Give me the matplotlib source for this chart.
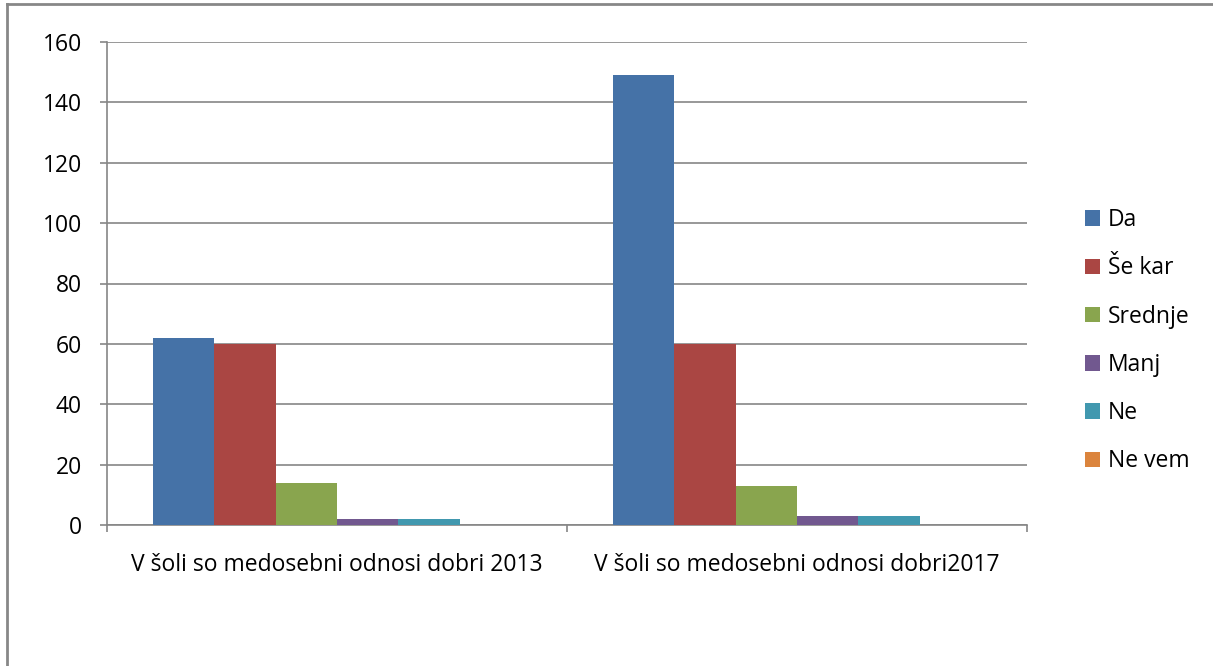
import numpy as np
import matplotlib
matplotlib.use("Agg")
import matplotlib.pyplot as plt
from matplotlib.lines import Line2D


# data
categories = ["V šoli so medosebni odnosi dobri 2013", "V šoli so medosebni odnosi dobri2017"]
series_names = ["Da", "Še kar", "Srednje", "Manj", "Ne", "Ne vem"]
da = [62, 149]
se_kar = [60, 60]
srednje = [14, 13]
manj = [2, 3]
ne = [2, 3]
ne_vem = [0, 0]
y_ticks = [0, 20, 40, 60, 80, 100, 120, 140, 160]

colors = ["#4572A7", "#AA4643", "#89A54E", "#71588F", "#4198AF", "#DB843D"]
grid_col = "#868686"

plt.rcParams['font.family'] = ['Open Sans', 'DejaVu Sans']
plt.rcParams['font.size'] = 16.5

fig = plt.figure(figsize=(12.13, 6.66), dpi=100)
ax = fig.add_axes([107/1213, 141/666, 920/1213, 483/666])

values = [da, se_kar, srednje, manj, ne, ne_vem]
x = np.arange(len(categories))
w = 1 / 7.5  # excel gap width 150%
for i, (name, vals) in enumerate(zip(series_names, values)):
	ax.bar(x + (i - 2.5) * w, vals, width=w, color=colors[i], label=name,
	       edgecolor='none', zorder=3)

ax.set_xlim(-0.5, 1.5)
ax.set_ylim(0, 160)
ax.set_yticks(y_ticks)
ax.yaxis.grid(True, color=grid_col, linewidth=1.2, zorder=0)

ax.set_xticks(x)
ax.set_xticklabels(categories)
ax.set_xticks([-0.5, 0.5, 1.5], minor=True)
ax.tick_params(axis='x', which='major', length=0, pad=20, labelcolor='#000000')
ax.tick_params(axis='x', which='minor', length=5, width=1.2, color=grid_col)
ax.tick_params(axis='y', length=5, width=1.2, color=grid_col, pad=13)

for s in ['top', 'right']:
	ax.spines[s].set_visible(False)
for s in ['left', 'bottom']:
	ax.spines[s].set_color(grid_col)
	ax.spines[s].set_linewidth(1.2)

leg = fig.legend(loc='upper left', bbox_to_anchor=(1085/1213, 1 - 208/666),
                 frameon=False, handlelength=0.66, handleheight=0.66,
                 handletextpad=0.35, labelspacing=1.06, borderpad=0, borderaxespad=0)

# chart border (right and bottom cut off)
fig.add_artist(Line2D([7/1213, 7/1213], [0, 1 - 4/666], color='#878787', linewidth=2,
                      transform=fig.transFigure))
fig.add_artist(Line2D([7/1213, 1], [1 - 4/666, 1 - 4/666], color='#878787', linewidth=2,
                      transform=fig.transFigure))

fig.savefig("out.png", dpi=100)
